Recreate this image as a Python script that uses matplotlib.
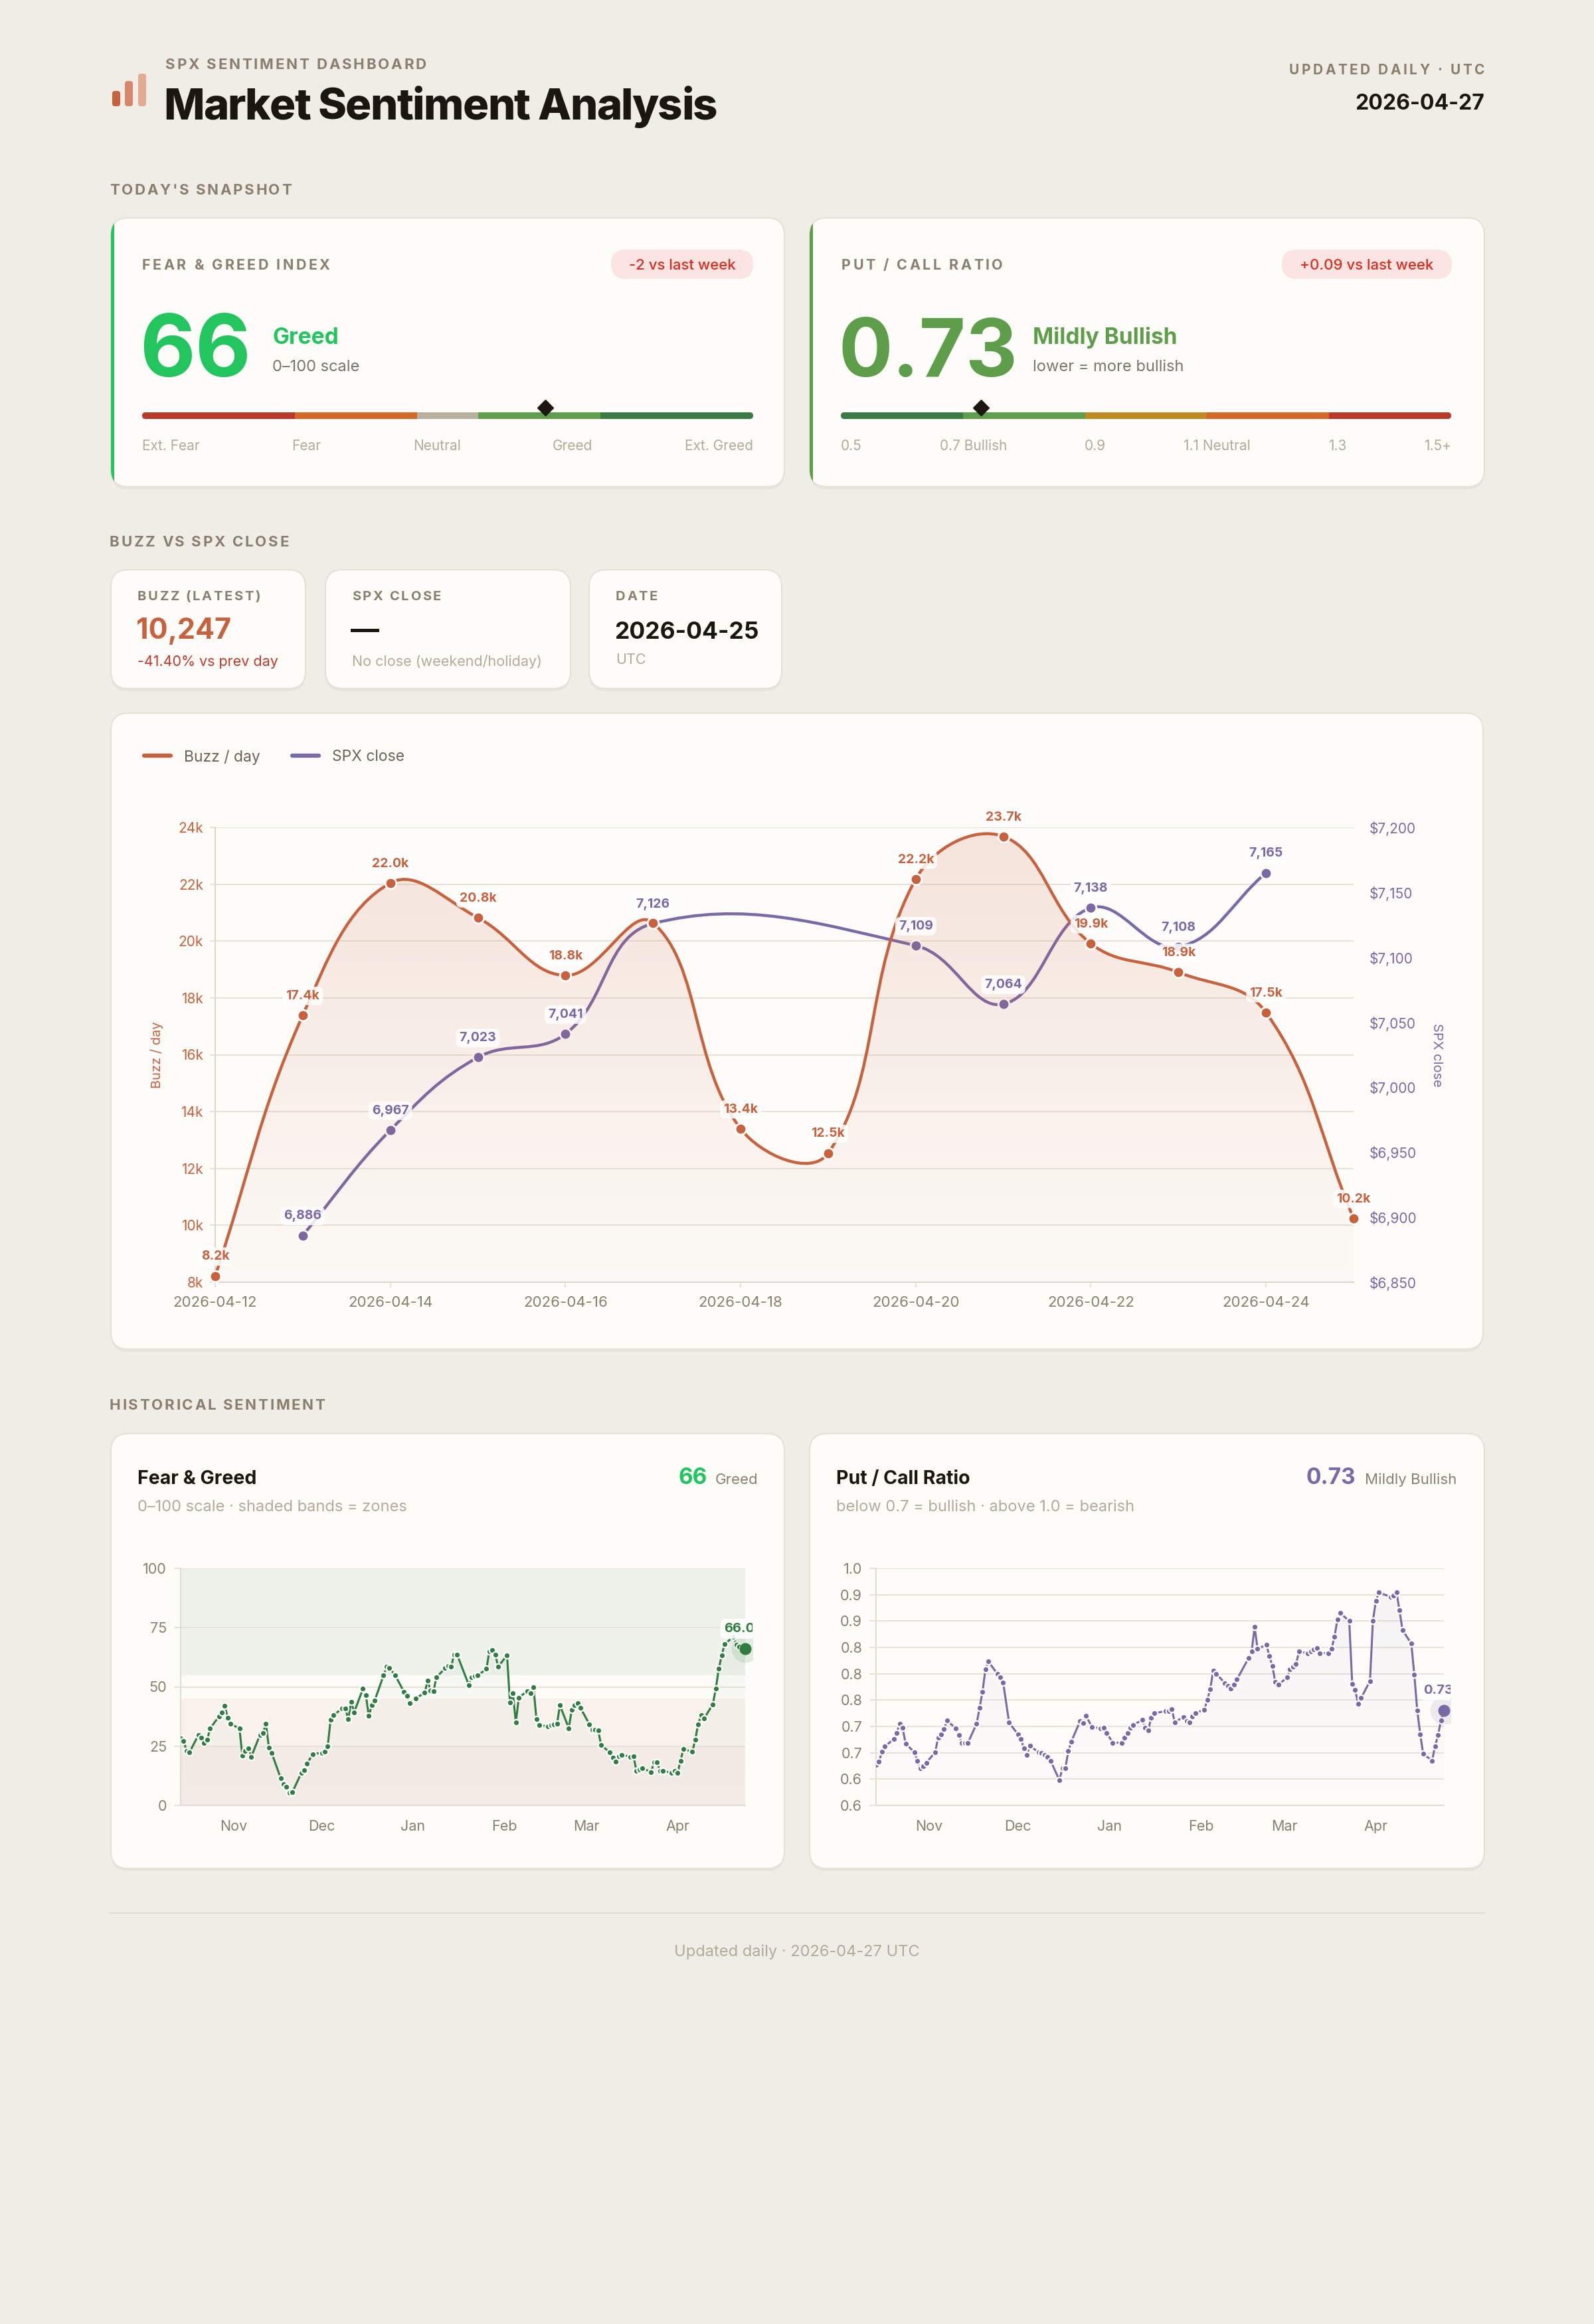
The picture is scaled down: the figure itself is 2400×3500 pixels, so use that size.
import numpy as np
import pandas as pd
import matplotlib
matplotlib.use("Agg")
import matplotlib.pyplot as plt
import matplotlib.dates as mdates
from matplotlib.patches import FancyBboxPatch, Rectangle, PathPatch
from matplotlib.path import Path
from matplotlib.colors import to_rgb
from matplotlib.ticker import FixedLocator, FuncFormatter
from matplotlib.transforms import Bbox
from matplotlib.font_manager import FontProperties

FAMILY = ["Inter", "DejaVu Sans"]
plt.rcParams["font.family"] = FAMILY

W, H = 2400, 3500

# ---------------- data ----------------
report_date = "2026-04-27"

fg_today = 66
fg_mood = "Greed"
fg_change = "-2 vs last week"
fg_zone_edges = [0, 25, 45, 55, 75, 100]
fg_zone_names = ["Ext. Fear", "Fear", "Neutral", "Greed", "Ext. Greed"]

pc_today = 0.73
pc_mood = "Mildly Bullish"
pc_change = "+0.09 vs last week"
pc_zone_edges = [0.5, 0.7, 0.9, 1.1, 1.3, 1.5]
pc_zone_names = ["0.5", "0.7 Bullish", "0.9", "1.1 Neutral", "1.3", "1.5+"]

buzz_latest = 10247
buzz_change = "-41.40% vs prev day"
buzz_date = "2026-04-25"

buzz_dates = pd.date_range("2026-04-12", "2026-04-25")
buzz_values = [8220, 17390, 22040, 20820, 18790, 20640, 13400,
               12540, 22180, 23680, 19910, 18900, 17486, 10247]
spx_close = [None, 6886, 6967, 7023, 7041, 7126, None,
             None, 7109, 7064, 7138, 7108, 7165, None]

# weekdays from 2025-10-14, one row per week (None = no reading)
hist_dates = pd.bdate_range("2025-10-14", "2026-04-24")
fg_hist = [
    28.4, 27.3, 23.1, 22.4,
    29.6, 28.7, 26.4, 27.6, 32.4,
    37.5, 39.1, 42.0, 37.1, 34.5,
    32.4, 21.0, 22.9, 24.2, 20.5,
    29.8, 30.6, 34.5, 24.5, 22.0,
    11.6, 9.1, 7.9, 5.4, 5.6,
    13.6, 14.9, 17.7, None, 21.7,
    22.2, 22.6, 24.8, 36.2, 38.2,
    40.8, 41.0, 36.3, 43.8, 39.3,
    49.2, 46.4, 37.7, 42.2, 44.3,
    54.8, 58.5, 58.0, None, 54.8,
    47.8, 46.1, 43.2, None, 45.2,
    47.5, 52.7, 48.5, 48.3, 54.1,
    57.9, 58.7, 58.5, 63.7, 63.7,
    None, 50.8, 54.1, 54.6, 54.8,
    57.6, 65.1, 65.5, 63.7, 58.5,
    63.4, 43.4, 47.2, 34.9, 45.5,
    48.3, 47.3, 50.0, 36.4, 33.8,
    33.4, 33.8, 34.1, 34.5, 42.2,
    32.6, 40.2, 42.2, 43.0, 41.1,
    34.3, 32.0, 32.0, 31.7, 25.4,
    22.4, 20.3, 18.5, 20.8, 21.4,
    20.5, 20.7, 14.7, 15.2, 15.7,
    14.1, 18.3, 18.2, 14.7, 14.5,
    13.8, 14.7, 13.6, 18.9, 23.8,
    22.6, 27.6, 34.3, 38.0, 36.6,
    42.7, 49.2, 57.6, 63.2, 68.1,
    71.1, 67.8, 66.9, 66.4, 66.0,
]
pc_hist = [
    0.627, 0.633, 0.652, 0.662,
    0.676, 0.688, 0.705, 0.697, 0.667,
    0.651, 0.634, 0.621, 0.624, 0.631,
    0.651, 0.679, 0.685, 0.695, 0.711,
    0.696, 0.683, 0.669, 0.669, 0.668,
    0.705, 0.735, 0.766, 0.809, 0.823,
    0.800, 0.793, 0.783, None, 0.707,
    0.685, 0.676, 0.658, 0.646, 0.663,
    0.651, 0.650, 0.646, 0.642, 0.635,
    0.598, 0.620, 0.620, 0.653, 0.671,
    0.710, 0.706, 0.720, None, 0.699,
    0.696, 0.697, 0.688, None, 0.669,
    0.669, 0.679, 0.688, 0.697, 0.703,
    0.712, 0.698, 0.692, 0.716, 0.725,
    None, 0.729, 0.729, 0.733, 0.708,
    0.718, 0.710, 0.707, 0.719, 0.725,
    0.732, 0.750, 0.771, 0.806, 0.800,
    0.782, 0.777, 0.772, 0.780, 0.789,
    None, 0.830, 0.842, 0.889, 0.847,
    0.855, 0.833, 0.815, 0.784, 0.779,
    0.793, 0.808, 0.813, 0.818, 0.842,
    0.839, 0.842, 0.846, 0.849, 0.839,
    0.839, 0.847, 0.870, 0.903, 0.915,
    0.900, 0.781, 0.769, 0.743, 0.754,
    0.786, 0.901, 0.938, 0.954, None,
    0.946, 0.948, 0.954, 0.920, 0.883,
    0.857, 0.798, 0.730, 0.685, 0.648,
    0.635, 0.662, 0.683, 0.711, 0.73,
]
pc_ticks = [0.55, 0.60, 0.65, 0.70, 0.75, 0.80, 0.85, 0.90, 0.95, 1.00]
pc_tick_labels = ["0.6", "0.6", "0.7", "0.7", "0.8", "0.8", "0.8", "0.9", "0.9", "1.0"]

# ---------------- style ----------------
BG = "#f0ede6"
CARD = "#fdfcf9"
BORDER = "#e6e1d7"
INK = "#1c1610"
MUTED = "#8a7f6e"
LIGHT = "#b3aa9a"
GRID = "#e8e3da"
ORANGE = "#c8623e"
PURPLE = "#7b68a6"
FG_GREEN = "#2f7d3f"
BRIGHT = "#22c55e"
MILD = "#5e9e4a"
RED = "#d92d20"
FG_COLORS = ["#b83a2a", "#d4672a", "#b8b09f", "#5f9e4b", "#3a7b45"]
PC_COLORS = ["#3a7b45", "#5f9e4b", "#c08a22", "#d4672a", "#b83a2b"]

fig = plt.figure(figsize=(W / 100, H / 100), dpi=100, facecolor=BG)
bg = fig.add_axes([0, 0, 1, 1])
bg.set_xlim(0, W)
bg.set_ylim(H, 0)
bg.axis("off")
renderer = fig.canvas.get_renderer()


def rect(x0, y0, x1, y1):
    return [x0 / W, 1 - y1 / H, (x1 - x0) / W, (y1 - y0) / H]


def card(x0, y0, x1, y1, r=26, accent=None):
    bg.add_patch(FancyBboxPatch((x0, y0 + 4), x1 - x0, y1 - y0,
                                boxstyle=f"round,pad=0,rounding_size={r}",
                                fc="#000000", ec="none", alpha=0.035, zorder=1))
    p = FancyBboxPatch((x0, y0), x1 - x0, y1 - y0,
                       boxstyle=f"round,pad=0,rounding_size={r}",
                       fc=CARD, ec=BORDER, lw=1.5, zorder=2)
    bg.add_patch(p)
    if accent:
        strip = Rectangle((x0 - 2, y0 - 2), 7, y1 - y0 + 4, fc=accent, ec="none", zorder=3)
        bg.add_patch(strip)
        strip.set_clip_path(p)
    return p


def txt(x, y, s, size, color=INK, weight="normal", ha="left", va="baseline", **kw):
    return bg.text(x, y, s, fontsize=size, color=color, weight=weight,
                   ha=ha, va=va, zorder=10, **kw)


def tracked(x, y, s, size, color=MUTED, weight="bold", ha="left", spacing=0.12):
    # letter-spaced text, drawn one glyph at a time
    fp = FontProperties(family=FAMILY, size=size, weight=weight)
    bar = renderer.get_text_width_height_descent("|", fp, ismath=False)[0]
    adv = lambda t: renderer.get_text_width_height_descent(t + "|", fp, ismath=False)[0] - bar
    sp = spacing * size * 100 / 72
    total = adv(s) + sp * (len(s) - 1)
    start = x if ha == "left" else x - total
    for i, ch in enumerate(s):
        if ch != " ":
            txt(start + adv(s[:i]) + i * sp, y, ch, size, color, weight)


def spread(x0, x1, y, names, size, color):
    # flex "space-between" row of labels
    items = [txt(0, y, n, size, color) for n in names]
    widths = [t.get_window_extent(renderer).width for t in items]
    gap = (x1 - x0 - sum(widths)) / (len(items) - 1)
    x = x0
    for t, w in zip(items, widths):
        t.set_x(x)
        x += w + gap


def gauge(x0, x1, yc, edges, colors, value):
    lo, hi = edges[0], edges[-1]
    pos = lambda v: x0 + (v - lo) / (hi - lo) * (x1 - x0)
    clip = FancyBboxPatch((x0, yc - 5), x1 - x0, 10,
                          boxstyle="round,pad=0,rounding_size=5", fc="none", ec="none")
    bg.add_patch(clip)
    for a, b, c in zip(edges[:-1], edges[1:], colors):
        seg = Rectangle((pos(a), yc - 5), pos(b) - pos(a), 10, fc=c, ec="none", zorder=4)
        bg.add_patch(seg)
        seg.set_clip_path(clip)
    bg.plot([pos(value)], [yc - 12], marker="D", ms=12.5, color=INK, zorder=6)


def badge(x0, x1, yc, s):
    bg.add_patch(FancyBboxPatch((x0, yc - 22), x1 - x0, 44,
                                boxstyle="round,pad=0,rounding_size=22",
                                fc="#fbe4e1", ec="none", zorder=5))
    txt((x0 + x1) / 2, yc, s, 16, RED, weight="medium", ha="center", va="center_baseline")


# ---------------- header ----------------
for bx, top, col in [(169, 137, "#c8623e"), (188, 122, "#d6866a"), (208, 111, "#e2ab92")]:
    bg.add_patch(FancyBboxPatch((bx, top), 12, 160 - top,
                                boxstyle="round,pad=0,rounding_size=4", fc=col, ec="none", zorder=3))
tracked(249, 104, "SPX SENTIMENT DASHBOARD", 16, spacing=0.125)
tracked(246, 180, "Market Sentiment Analysis", 47, INK, weight="heavy", spacing=-0.025)
tracked(2235, 112, "UPDATED DAILY · UTC", 15, ha="right", spacing=0.17)
txt(2235, 165, report_date, 23, INK, weight="bold", ha="right")

# ---------------- snapshot ----------------
tracked(165, 293, "TODAY'S SNAPSHOT", 16)

card(167, 328, 1181, 733, accent=BRIGHT)
tracked(214, 406, "FEAR & GREED INDEX", 15.5, spacing=0.16)
badge(920, 1134, 398, fg_change)
txt(210, 567, f"{fg_today}", 93, BRIGHT, weight="bold")
txt(410, 518, fg_mood, 24, BRIGHT, weight="bold")
txt(410, 559, "0–100 scale", 17, "#7d7468")
gauge(214, 1134, 626, fg_zone_edges, FG_COLORS, fg_today)
spread(214, 1134, 678, fg_zone_names, 15, LIGHT)

card(1219, 328, 2235, 733, accent=MILD)
tracked(1267, 406, "PUT / CALL RATIO", 15.5, spacing=0.16)
badge(1930, 2186, 398, pc_change)
txt(1263, 567, f"{pc_today:.2f}", 87, MILD, weight="bold")
txt(1555, 518, pc_mood, 24, MILD, weight="bold")
txt(1555, 559, "lower = more bullish", 17, "#7d7468")
gauge(1266, 2185, 626, pc_zone_edges, PC_COLORS, pc_today)
spread(1266, 2185, 678, pc_zone_names, 15, LIGHT)

# ---------------- buzz vs spx ----------------
tracked(165, 823, "BUZZ VS SPX CLOSE", 16)
card(167, 858, 460, 1037)
card(490, 858, 859, 1037)
card(887, 858, 1177, 1037)
tracked(207, 904, "BUZZ (LATEST)", 14.5, spacing=0.13)
txt(205, 962, f"{buzz_latest:,}", 31, ORANGE, weight="bold")
txt(207, 1003, buzz_change, 15.5, "#c0392b")
tracked(530, 904, "SPX CLOSE", 14.5, spacing=0.13)
txt(528, 962, "—", 31, INK, weight="bold")
txt(530, 1003, "No close (weekend/holiday)", 15.5, LIGHT)
tracked(927, 904, "DATE", 14.5, spacing=0.13)
txt(925, 962, buzz_date, 25.5, INK, weight="bold")
txt(927, 1000, "UTC", 15.5, LIGHT)

card(167, 1074, 2233, 2032)
for lx, col, lab in [(214, ORANGE, "Buzz / day"), (437, PURPLE, "SPX close")]:
    bg.plot([lx + 3, lx + 43], [1138, 1138], color=col, lw=4.5, solid_capstyle="round", zorder=6)
    txt(lx + 63, 1138, lab, 16.5, "#6b6358", va="center_baseline")


def spline_path(xs, ys, sx, sy, tension=0.4):
    # Chart.js style bezier through points, computed in pixel space
    px, py = np.asarray(xs, float) * sx, np.asarray(ys, float) * sy
    n = len(px)
    cin, cout = [], []
    for i in range(n):
        a, b = max(i - 1, 0), min(i + 1, n - 1)
        d01 = np.hypot(px[i] - px[a], py[i] - py[a])
        d12 = np.hypot(px[b] - px[i], py[b] - py[i])
        tot = d01 + d12
        s01 = d01 / tot if tot else 0
        s12 = d12 / tot if tot else 0
        dx, dy = px[b] - px[a], py[b] - py[a]
        cin.append((px[i] - tension * s01 * dx, py[i] - tension * s01 * dy))
        cout.append((px[i] + tension * s12 * dx, py[i] + tension * s12 * dy))
    verts = [(px[0], py[0])]
    codes = [Path.MOVETO]
    for i in range(1, n):
        verts += [cout[i - 1], cin[i], (px[i], py[i])]
        codes += [Path.CURVE4] * 3
    verts = [(vx / sx, vy / sy) for vx, vy in verts]
    return verts, codes


def gradient_under(ax, verts, codes, base, top, color, a_top, a_bot, x0, x1, z=1):
    v = list(verts) + [(verts[-1][0], base), (verts[0][0], base), verts[0]]
    c = list(codes) + [Path.LINETO, Path.LINETO, Path.CLOSEPOLY]
    patch = PathPatch(Path(v, c), fc="none", ec="none")
    ax.add_patch(patch)
    grad = np.zeros((256, 1, 4))
    grad[..., :3] = to_rgb(color)
    grad[:, 0, 3] = np.linspace(a_top, a_bot, 256)
    im = ax.imshow(grad, aspect="auto", extent=[x0, x1, base, top], origin="upper", zorder=z)
    im.set_clip_path(patch)


BUZZ_LIM = (8000, 24000)
SPX_LIM = (6850, 7200)

ax = fig.add_axes(rect(324, 1246, 2038, 1931))
ax2 = ax.twinx()
ax.set_zorder(3)
ax2.set_zorder(2)
ax.patch.set_visible(False)
ax2.patch.set_visible(False)
xi = np.arange(len(buzz_dates))
ax.set_xlim(0, len(xi) - 1)
ax.set_ylim(*BUZZ_LIM)
ax2.set_ylim(*SPX_LIM)
ax_w, ax_h = 2038 - 324, 1931 - 1246
sx = ax_w / (len(xi) - 1)
label_box = dict(boxstyle="round,pad=0.25,rounding_size=0.4", fc="white", ec="none", alpha=0.85)

buzz_ticks = np.arange(8000, 24001, 2000)
# horizontal grid follows the left axis, drawn underneath both series
for v in buzz_ticks:
    y2 = SPX_LIM[0] + (v - BUZZ_LIM[0]) / (BUZZ_LIM[1] - BUZZ_LIM[0]) * (SPX_LIM[1] - SPX_LIM[0])
    ax2.axhline(y2, color=GRID, lw=1.5, zorder=0.5)

bv, bc = spline_path(xi, buzz_values, sx, ax_h / 16000)
gradient_under(ax, bv, bc, 8000, 24000, ORANGE, 0.16, 0.02, 0, len(xi) - 1)
ax.add_patch(PathPatch(Path(bv, bc), fc="none", ec=ORANGE, lw=3.2, zorder=4, capstyle="round"))
ax.plot(xi, buzz_values, "o", ms=12, color=ORANGE, mec="white", mew=2, zorder=5, clip_on=False)
for i, v in enumerate(buzz_values):
    if i == 5:
        continue  # hidden behind the SPX label in the source
    ax.annotate(f"{v / 1000:.1f}k", (i, v), xytext=(0, 21), textcoords="offset points",
                ha="center", va="center", fontsize=14, weight="bold", color=ORANGE, zorder=7,
                annotation_clip=False, bbox=label_box)

sm = np.array([v is not None for v in spx_close])
sxv = xi[sm]
syv = np.array([v for v in spx_close if v is not None], float)
spv, spc = spline_path(sxv, syv, sx, ax_h / 350)
ax2.add_patch(PathPatch(Path(spv, spc), fc="none", ec=PURPLE, lw=3.2, zorder=3))
ax2.plot(sxv, syv, "o", ms=12, color=PURPLE, mec="white", mew=2, zorder=4, clip_on=False)
for x, v in zip(sxv, syv):
    ax.annotate(f"{v:,.0f}", (x, v), xycoords=ax2.transData, xytext=(0, 21),
                textcoords="offset points", ha="center", va="center", fontsize=14,
                weight="bold", color=PURPLE, zorder=7, bbox=label_box)

ax.set_yticks(buzz_ticks)
ax.yaxis.set_major_formatter(FuncFormatter(lambda v, p: f"{v / 1000:.0f}k"))
ax.set_xticks(xi[::2])
ax.set_xticklabels(buzz_dates[::2].strftime("%Y-%m-%d"))
ax2.set_yticks(np.arange(6850, 7201, 50))
ax2.yaxis.set_major_formatter(FuncFormatter(lambda v, p: f"${v:,.0f}"))
ax2.set_xticks(xi[::2])
ax2.grid(True, axis="x", color=GRID, lw=1.5)
ax2.set_axisbelow(True)
ax.tick_params(axis="y", length=6, color=GRID, width=1.5, pad=7, labelsize=15, labelcolor=ORANGE)
ax.tick_params(axis="x", length=6, color=GRID, width=1.5, pad=9, labelsize=16, labelcolor=MUTED)
ax2.tick_params(axis="y", length=0, pad=17, labelsize=15, labelcolor=PURPLE)
ax2.tick_params(axis="x", length=0, labelbottom=False)
for a in (ax, ax2):
    for s in ("top", "right"):
        a.spines[s].set_visible(False)
    for s in ("left", "bottom"):
        a.spines[s].set_color("#ddd7cc")
        a.spines[s].set_linewidth(1.5)
ax2.spines["left"].set_visible(False)
ax2.spines["bottom"].set_visible(False)
ax.set_ylabel("Buzz / day", fontsize=14.5, color=ORANGE, labelpad=16)
ax2.set_ylabel("SPX close", fontsize=14.5, color=PURPLE, rotation=270, labelpad=28)

# ---------------- historical ----------------
tracked(165, 2123, "HISTORICAL SENTIMENT", 16)
card(167, 2159, 1181, 2814)
card(1219, 2159, 2235, 2814)

txt(207, 2235, "Fear & Greed", 20.5, INK, weight="bold")
txt(207, 2276, "0–100 scale · shaded bands = zones", 17, LIGHT)
txt(1141, 2235, fg_mood, 16, MUTED, ha="right")
txt(1065, 2235, f"{fg_today}", 24, BRIGHT, weight="bold", ha="right")

txt(1259, 2235, "Put / Call Ratio", 20.5, INK, weight="bold")
txt(1259, 2276, "below 0.7 = bullish · above 1.0 = bearish", 17, LIGHT)
txt(2193, 2235, pc_mood, 16, MUTED, ha="right")
txt(2041, 2235, f"{pc_today:.2f}", 24, PURPLE, weight="bold", ha="right")

hx = mdates.date2num(hist_dates)


def hist_chart(box, values, color, ylim, clip_x, label, fill_top, bands=None):
    h = fig.add_axes(rect(*box))
    h.set_facecolor("none")
    m = np.array([v is not None for v in values])
    x = hx[m]
    y = np.array([v for v in values if v is not None], float)
    h.set_xlim(x[0], x[-1])
    h.set_ylim(*ylim)
    if bands:
        for lo, hi, c in bands:
            h.axhspan(lo, hi, color=c, lw=0, zorder=0)
    verts = list(zip(x, y))
    codes = [Path.MOVETO] + [Path.LINETO] * (len(verts) - 1)
    gradient_under(h, verts, codes, ylim[0], ylim[1], color, fill_top, 0.0, x[0], x[-1], z=1)
    h.plot(x, y, "-", color=color, lw=2.2, zorder=3)
    h.plot(x[:-1], y[:-1], "o", ms=6.8, color=color, mec="white", mew=1.6, zorder=4)
    box_clip = Bbox.from_extents(0, 0, clip_x, H)
    for ms, al in [(30, 0.12), (13, 1.0)]:
        ln, = h.plot(x[-1:], y[-1:], "o", ms=ms, color=color, mec="none", alpha=al, zorder=5)
        ln.set_clip_path(None)
        ln.set_clip_box(box_clip)
    t = h.annotate(label, (x[-1], y[-1]), xytext=(-6, 22), textcoords="offset points",
                   ha="center", va="center", fontsize=14.5, weight="bold", color=color, zorder=6,
                   annotation_clip=False,
                   bbox=dict(boxstyle="round,pad=0.3,rounding_size=0.4", fc="white", ec="none", alpha=0.9))
    t.set_clip_path(None)
    t.set_clip_on(True)
    t.set_clip_box(box_clip)
    t.get_bbox_patch().set_clip_on(True)
    t.get_bbox_patch().set_clip_box(box_clip)
    h.xaxis.set_major_locator(mdates.MonthLocator())
    h.xaxis.set_major_formatter(mdates.DateFormatter("%b"))
    h.grid(True, axis="y", color=GRID, lw=1.5)
    h.set_axisbelow(True)
    h.tick_params(axis="x", length=0, pad=16, labelsize=15.5, labelcolor=MUTED)
    h.tick_params(axis="y", length=7, color=GRID, width=1.5, pad=8, labelsize=15.5, labelcolor=MUTED)
    for s in ("top", "right"):
        h.spines[s].set_visible(False)
    for s in ("left", "bottom"):
        h.spines[s].set_color("#e2dcd1")
        h.spines[s].set_linewidth(1.5)
    return h


fg_bands = [(0, 25, "#f3ebe6"), (25, 45, "#f8f1ec"), (55, 75, "#eff2eb"), (75, 100, "#edf1e9")]
hf = hist_chart((272, 2362, 1122, 2719), fg_hist, FG_GREEN, (0, 100), 1133,
                f"{fg_hist[-1]:.1f}", 0.06, fg_bands)
hf.set_yticks([0, 25, 50, 75, 100])

hp = hist_chart((1319, 2362, 2174, 2719), pc_hist, PURPLE, (0.55, 1.0), 2184,
                f"{pc_hist[-1]:.2f}", 0.07)
hp.yaxis.set_major_locator(FixedLocator(pc_ticks))
hp.set_yticklabels(pc_tick_labels)

# ---------------- footer ----------------
bg.plot([165, 2235], [2881, 2881], color="#e2ddd3", lw=1.5, zorder=2)
txt(1200, 2946, f"Updated daily · {report_date} UTC", 17, LIGHT, ha="center")

fig.savefig("out.png", dpi=100, facecolor=BG)
